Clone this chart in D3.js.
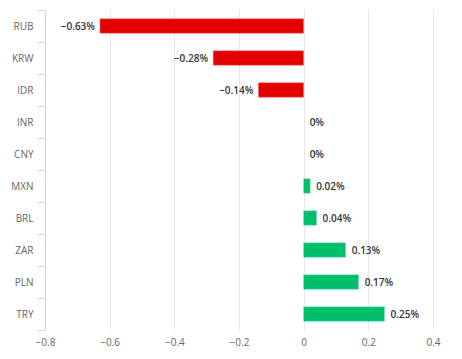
<!DOCTYPE html>
<html>
<head>
<meta charset="utf-8">
<script src="https://cdn.jsdelivr.net/npm/d3@7"></script>
<style>
  html, body { margin: 0; padding: 0; background: #fff; }
  #chart { width: 462px; height: 359px; }
</style>
</head>
<body>
<div id="chart"></div>
<script>
// currency changes, top to bottom
let categories = ["RUB", "KRW", "IDR", "INR", "CNY", "MXN", "BRL", "ZAR", "PLN", "TRY"];
let values = [-0.63, -0.28, -0.14, 0, 0, 0.02, 0.04, 0.13, 0.17, 0.25];
let xTicks = [-0.8, -0.6, -0.4, -0.2, 0, 0.2, 0.4];

let data = categories.map((c, i) => ({ name: c, value: values[i] }));

let margin = ({ top: 10, right: 29, bottom: 29, left: 45 }),
    width = 462,
    height = 359;

let red = "#e30000",
    green = "#00bf6a";

let x = d3.scaleLinear()
    .domain([-0.8, 0.4])
    .range([margin.left, width - margin.right]);

let y = d3.scaleBand()
    .domain(categories)
    .range([margin.top, height - margin.bottom])
    .paddingInner(0.55)
    .paddingOuter(0.275);

let svg = d3.select("#chart")
    .append("svg")
    .attr("width", width)
    .attr("height", height)
    .style("font-family", "'Open Sans', sans-serif");

// vertical grid lines
svg.append("g")
    .selectAll("line")
    .data(xTicks)
    .join("line")
    .attr("x1", d => Math.round(x(d)) + 0.5)
    .attr("x2", d => Math.round(x(d)) + 0.5)
    .attr("y1", margin.top)
    .attr("y2", height - margin.bottom)
    .attr("stroke", "#e6e6e6")
    .attr("stroke-width", 1);

// x axis labels only
let fmt = d3.format("");
svg.append("g")
    .attr("transform", `translate(0,${height - margin.bottom})`)
    .call(d3.axisBottom(x).tickValues(xTicks).tickFormat(d => d3.format("")(d).replace("-", "\u2212")).tickSize(0).tickPadding(9))
    .call(g => g.select(".domain").remove())
    .selectAll("text")
    .style("font-size", "10px")
    .style("font-family", "'Open Sans', sans-serif")
    .attr("fill", "#666");

// y axis with ticks between categories
let yAxis = svg.append("g")
    .attr("transform", `translate(${margin.left + 0.5},0)`);

yAxis.append("line")
    .attr("y1", margin.top)
    .attr("y2", height - margin.bottom)
    .attr("stroke", "#ccd6eb");

let step = y.step();
let boundaries = d3.range(categories.length + 1).map(i => margin.top + i * step);
yAxis.selectAll(".tk")
    .data(boundaries)
    .join("line")
    .attr("class", "tk")
    .attr("x1", -8)
    .attr("x2", 0)
    .attr("y1", d => Math.round(d) + 0.5)
    .attr("y2", d => Math.round(d) + 0.5)
    .attr("stroke", "#ccd6eb");

yAxis.selectAll("text")
    .data(categories)
    .join("text")
    .attr("x", -12)
    .attr("y", d => y(d) + y.bandwidth() / 2)
    .attr("dy", "0.35em")
    .attr("text-anchor", "end")
    .style("font-size", "10px")
    .attr("fill", "#666")
    .text(d => d);

// bars
svg.append("g")
    .selectAll("rect")
    .data(data.filter(d => d.value !== 0))
    .join("rect")
    .attr("x", d => x(Math.min(0, d.value)))
    .attr("y", d => y(d.name))
    .attr("width", d => Math.abs(x(d.value) - x(0)))
    .attr("height", y.bandwidth())
    .attr("fill", d => d.value < 0 ? red : green)
    .attr("stroke", d => d.value < 0 ? "#ff8080" : "#80e0b5")
    .attr("stroke-width", 0.6);

// value labels
svg.append("g")
    .selectAll("text")
    .data(data)
    .join("text")
    .attr("x", d => d.value < 0 ? x(d.value) - 5 : x(d.value) + 6)
    .attr("y", d => y(d.name) + y.bandwidth() / 2)
    .attr("dy", "0.35em")
    .attr("text-anchor", d => d.value < 0 ? "end" : "start")
    .style("font-size", "10px")
    .style("font-weight", "600")
    .attr("fill", "#333")
    .text(d => d3.format("")(d.value).replace("-", "\u2212") + "%");
</script>
</body>
</html>
